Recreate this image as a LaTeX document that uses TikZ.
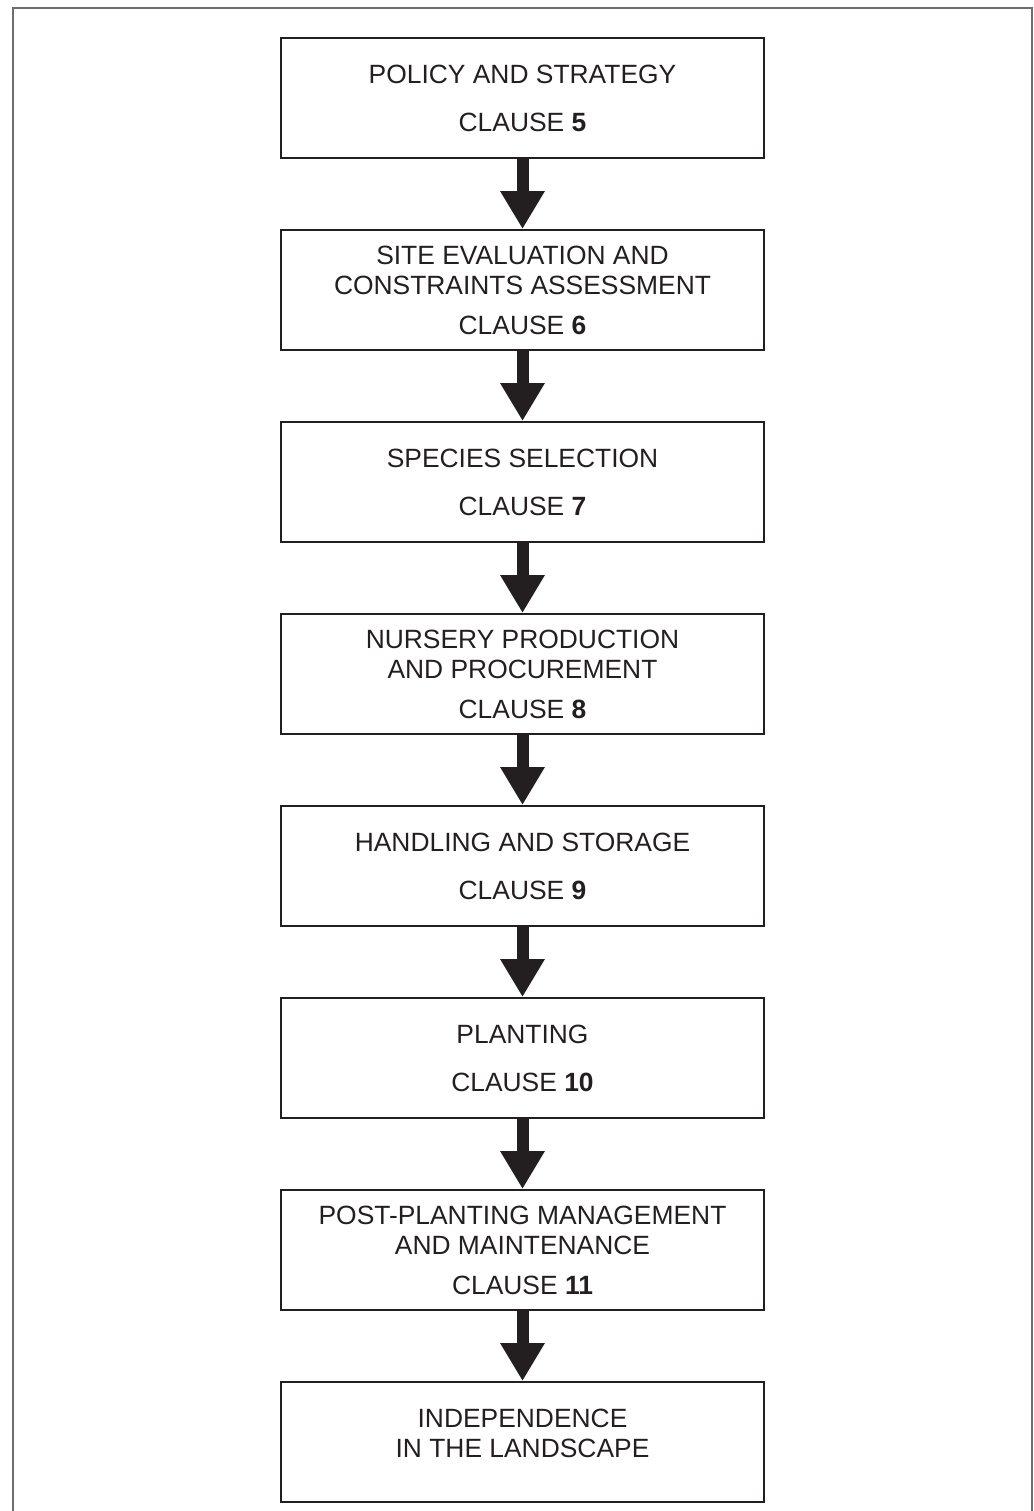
\documentclass[tikz,border=0pt]{standalone}
\usepackage{fontspec}
\setmainfont{Liberation Sans}
\usetikzlibrary{positioning,arrows.meta}
\definecolor{ink}{HTML}{231F20}
\definecolor{framegrey}{HTML}{6E6E6E}
\tikzset{
  stage/.style={draw=ink, line width=1pt, minimum width=241.5pt, minimum height=60pt,
    inner sep=0pt, align=center, text=ink, font=\fontsize{13.2}{15}\selectfont},
  flow/.style={draw=ink, fill=ink, line width=6pt, -{Triangle[width=21pt,length=19pt]}},
  border/.style={draw=framegrey, line width=0.65pt},
}
\begin{document}
\begin{tikzpicture}[x=0.5pt,y=-0.5pt]
  \useasboundingbox (0,0) rectangle (1034,1511);
  \draw[border] (13,1511) -- (13,8) -- (1032,8) -- (1032,1511);

  \node[stage] (policy) at (522.5,98) {POLICY AND STRATEGY\\[9pt]CLAUSE \textbf{5}};
  \node[stage,below=35pt of policy] (site) {SITE EVALUATION AND\\CONSTRAINTS ASSESSMENT\\[5pt]CLAUSE \textbf{6}};
  \node[stage,below=35pt of site] (species) {SPECIES SELECTION\\[9pt]CLAUSE \textbf{7}};
  \node[stage,below=35pt of species] (nursery) {NURSERY PRODUCTION\\AND PROCUREMENT\\[5pt]CLAUSE \textbf{8}};
  \node[stage,below=35pt of nursery] (handling) {HANDLING AND STORAGE\\[9pt]CLAUSE \textbf{9}};
  \node[stage,below=35pt of handling] (planting) {PLANTING\\[9pt]CLAUSE \textbf{10}};
  \node[stage,below=35pt of planting] (post) {POST-PLANTING MANAGEMENT\\AND MAINTENANCE\\[5pt]CLAUSE \textbf{11}};
  \node[stage,below=35pt of post] (indep) {INDEPENDENCE\\IN THE LANDSCAPE\\[-6pt]\mbox{}};

  \foreach \A/\B in {policy/site,site/species,species/nursery,nursery/handling,
                     handling/planting,planting/post,post/indep}{
    \draw[flow] (\A) -- (\B);
  }
\end{tikzpicture}
\end{document}
